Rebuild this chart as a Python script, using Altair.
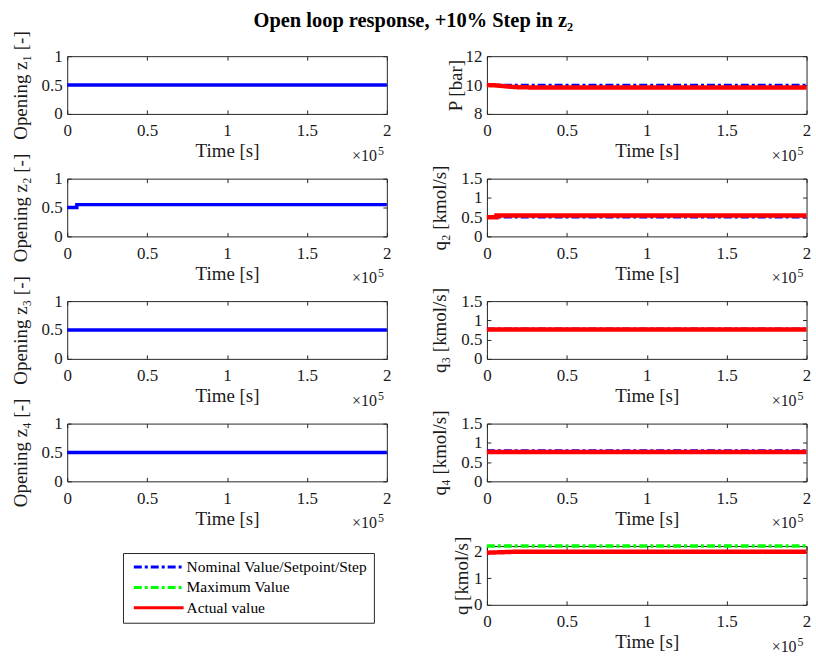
import altair as alt
import pandas as pd

FONT = "Liberation Serif"
INK = "#1a1a1a"

# ---------------- data (time in seconds) ----------------
t_span = [0, 200000]
x_ticks = [0, 50000, 100000, 150000, 200000]
exponent_base = ["×10"]
exponent_power = ["5"]

z1_t = [0, 200000]
z1_v = [0.5, 0.5]
z2_t = [0, 6000, 6000, 200000]
z2_v = [0.5, 0.5, 0.55, 0.55]
z3_t = [0, 200000]
z3_v = [0.5, 0.5]
z4_t = [0, 200000]
z4_v = [0.5, 0.5]

P_nom_t = [0, 200000]
P_nom_v = [10.0, 10.0]
P_act_t = [0, 5000, 10000, 15000, 20000, 30000, 200000]
P_act_v = [10.0, 9.98, 9.93, 9.88, 9.85, 9.83, 9.83]

q2_nom_t = [0, 200000]
q2_nom_v = [0.50, 0.50]
q2_act_t = [0, 6000, 6000, 200000]
q2_act_v = [0.50, 0.50, 0.54, 0.54]

q3_nom_t = [0, 200000]
q3_nom_v = [0.78, 0.78]
q3_act_t = [0, 200000]
q3_act_v = [0.76, 0.76]

q4_nom_t = [0, 200000]
q4_nom_v = [0.80, 0.80]
q4_act_t = [0, 200000]
q4_act_v = [0.76, 0.76]

q_max_t = [0, 200000]
q_max_v = [2.21, 2.21]
q_act_t = [0, 10000, 20000, 200000]
q_act_v = [1.96, 1.98, 2.0, 2.0]

series_names = ["Nominal Value/Setpoint/Step", "Maximum Value", "Actual value"]
series_colors = ["#0000FF", "#00FF00", "#FF0000"]
series_dashes = [[8, 3, 3, 3], [8, 3, 3, 3], [1, 0]]
series_widths = [2.5, 3.5, 4.5]

W = 321
H = 58

color_scale = alt.Scale(domain=series_names, range=series_colors)
dash_scale = alt.Scale(domain=series_names, range=series_dashes)
legend = alt.Legend(
    title=None, orient="none", legendX=56, legendY=499, direction="vertical",
    symbolType="M-3.333,0H3.333", symbolSize=225, symbolStrokeWidth=3,
    symbolOffset=20.9, labelOffset=19, rowPadding=3.5, padding=6, clipHeight=16,
    labelFont=FONT, labelFontSize=15.5, labelColor="black", labelLimit=400,
    strokeColor="#262626", fillColor="white",
)


def xenc(h):
    return alt.X(
        "t:Q",
        scale=alt.Scale(domain=t_span, nice=False, zero=False),
        axis=alt.Axis(values=x_ticks, labelExpr="datum.value / 100000",
                      title="Time [s]", gridDash=[4, h - 8]),
    )


def yenc(domain, ticks, title, w, tpad=11):
    return alt.Y(
        "v:Q",
        scale=alt.Scale(domain=domain, nice=False, zero=False),
        axis=alt.Axis(values=ticks, labelExpr="datum.value", title=title,
                      gridDash=[4, w - 8], titlePadding=tpad),
    )


def exponent(w, h):
    base = alt.Chart(pd.DataFrame({"s": exponent_base})).mark_text(
        align="right", baseline="alphabetic", font=FONT, fontSize=16, color=INK
    ).encode(x=alt.value(w - 10), y=alt.value(h + 47), text="s:N")
    power = alt.Chart(pd.DataFrame({"s": exponent_power})).mark_text(
        align="left", baseline="alphabetic", font=FONT, fontSize=12, color=INK
    ).encode(x=alt.value(w - 9), y=alt.value(h + 41), text="s:N")
    return [base, power]


def left_panel(t, v, title):
    df = pd.DataFrame({"t": t, "v": v})
    line = alt.Chart(df).mark_line(color="#0000FF", strokeWidth=3.5).encode(
        x=xenc(H), y=yenc([0, 1], [0, 0.5, 1], title, W)
    )
    return alt.layer(line, *exponent(W, H)).properties(width=W, height=H)


def right_panel(series, domain, ticks, title, h, tpad=11):
    layers = []
    for idx, t, v in series:
        df = pd.DataFrame({"t": t, "v": v, "series": series_names[idx]})
        layers.append(
            alt.Chart(df).mark_line(strokeWidth=series_widths[idx]).encode(
                x=xenc(h),
                y=yenc(domain, ticks, title, W, tpad),
                color=alt.Color("series:N", scale=color_scale, legend=legend),
                strokeDash=alt.StrokeDash("series:N", scale=dash_scale, legend=legend),
            )
        )
    layers.extend(exponent(W, h))
    return alt.layer(*layers).properties(width=W, height=h)


left_col = alt.vconcat(
    left_panel(z1_t, z1_v, "Opening z₁ [-]"),
    left_panel(z2_t, z2_v, "Opening z₂ [-]"),
    left_panel(z3_t, z3_v, "Opening z₃ [-]"),
    left_panel(z4_t, z4_v, "Opening z₄ [-]"),
    spacing=65, bounds="flush",
)

right_col = alt.vconcat(
    right_panel([(0, P_nom_t, P_nom_v), (2, P_act_t, P_act_v)], [8, 12], [8, 10, 12], "P [bar]", H, 0),
    right_panel([(0, q2_nom_t, q2_nom_v), (2, q2_act_t, q2_act_v)], [0, 1.5], [0, 0.5, 1, 1.5], "q₂ [kmol/s]", H),
    right_panel([(0, q3_nom_t, q3_nom_v), (2, q3_act_t, q3_act_v)], [0, 1.5], [0, 0.5, 1, 1.5], "q₃ [kmol/s]", H),
    right_panel([(0, q4_nom_t, q4_nom_v), (2, q4_act_t, q4_act_v)], [0, 1.5], [0, 0.5, 1, 1.5], "q₄ [kmol/s]", H),
    right_panel([(1, q_max_t, q_max_v), (2, q_act_t, q_act_v)], [0, 2.21], [0, 1, 2], "q [kmol/s]", 59, 2),
    spacing=65, bounds="flush",
)

chart = alt.hconcat(left_col, right_col, spacing=35.5, bounds="full").properties(
    title=alt.TitleParams(
        "Open loop response, +10% Step in z₂", font=FONT, fontSize=20.5,
        fontWeight="bold", color="black", anchor="middle", offset=-1.5,
    ),
    padding={"left": 10.5, "top": 10, "right": 0, "bottom": 0},
    background="white",
).configure_view(
    stroke="#262626", strokeWidth=1
).configure_axis(
    labelFont=FONT, labelFontSize=17, labelColor=INK,
    titleFont=FONT, titleFontSize=19, titleFontWeight="normal", titleColor=INK,
    ticks=False, domain=False, grid=True, gridColor="#262626", gridOpacity=1,
    gridWidth=1, labelFlush=False, labelOverlap=False,
).configure_axisX(
    labelPadding=9, titlePadding=3
).configure_axisY(
    labelPadding=5
)

chart.save("out.html", embed_options={"renderer": "svg", "actions": False})
